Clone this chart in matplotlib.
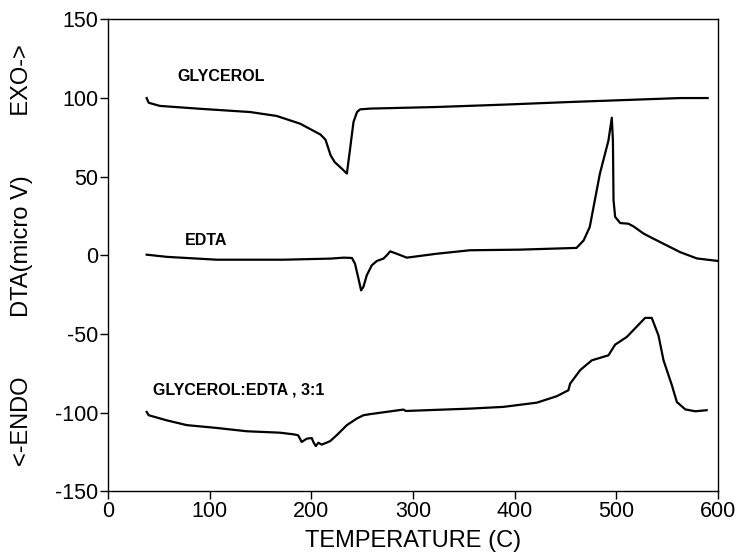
import matplotlib
matplotlib.use("Agg")
import matplotlib.pyplot as plt

plt.rcParams['font.family'] = ['Liberation Sans', 'DejaVu Sans']
plt.rcParams['axes.unicode_minus'] = False

# GLYCEROL curve (temperature C, DTA micro V)
gly_t = [38, 40, 51, 90, 140, 166, 189, 209, 214, 219, 223, 231, 235, 238, 241.5, 245, 248,
         258, 323, 389, 455, 520, 563, 590]
gly_v = [100, 97, 95, 93.2, 91.1, 88.6, 83.7, 76.8, 73.5, 63.6, 59.3, 54.5, 52.0, 66.8, 84.7,
         91.1, 92.8, 93.3, 94.3, 95.8, 97.5, 99, 100, 100]

# EDTA curve
edta_t = [38, 58, 107, 173, 219, 232, 240, 243, 246.4, 249, 251.3, 254.6, 259.5, 264.5, 271,
          274.3, 277.6, 284, 294, 323.5, 356, 405.5, 461, 468, 474, 484, 492.4, 495.7,
          496.8, 497.4, 499, 504, 512, 517, 527, 533.5, 543, 563, 579.4, 600]
edta_v = [0.4, -1, -2.8, -2.8, -2.1, -1.5, -1.7, -5.3, -14.8, -22.3, -20, -12.7, -6.4, -3.6,
          -2.1, 0, 2.5, 1, -1.5, 1, 3.2, 3.6, 4.7, 9.5, 18, 52, 73, 87.5,
          73, 35, 24.4, 20.5, 20.1, 18.4, 13.8, 11.6, 8.5, 2, -2, -3.6]

# GLYCEROL:EDTA 3:1 curve
mix_t = [38, 40, 58, 77.5, 107, 136.5, 169, 182, 187, 190.6, 195.6, 200.5, 202, 204.4, 207,
         210.3, 218.5, 225, 235, 244.8, 251.3, 258, 290.6, 293, 356, 389, 422, 441.6, 453,
         454.7, 464.6, 476, 492.4, 499, 510.5, 528.5, 535, 541.6, 546.6, 554.8, 559.7, 568,
         577.8, 589]
mix_v = [-99.6, -101.7, -105, -108, -109.8, -111.9, -112.8, -113.8, -114.4, -118.7, -116.6,
         -116.2, -118.7, -121.3, -119.2, -120.4, -118.2, -114.4, -108, -103.8, -101.7, -101,
         -98.1, -99, -97.5, -96.4, -93.7, -89.6, -85.8, -81.6, -73, -66.8, -63.6, -56.8,
         -51.9, -39.8, -39.8, -50.9, -66.8, -82.6, -93.3, -98, -99.2, -98.5]

labels = ["GLYCEROL", "EDTA", "GLYCEROL:EDTA , 3:1"]
label_pos = [(68, 113.4), (76, 9.1), (44, -85.8)]

fig = plt.figure(figsize=(7.4, 5.55), dpi=100)
ax = fig.add_axes([0.146, 0.115, 0.824, 0.85])

for t, v in [(gly_t, gly_v), (edta_t, edta_v), (mix_t, mix_v)]:
    ax.plot(t, v, color='black', lw=1.6)

for txt, (x, y) in zip(labels, label_pos):
    ax.text(x, y, txt, fontsize=11.5, fontweight='bold', va='center', ha='left')

ax.set_xlim(0, 600)
ax.set_ylim(-150, 150)
ax.set_xticks([0, 100, 200, 300, 400, 500, 600])
ax.set_yticks([-150, -100, -50, 0, 50, 100, 150])
ax.tick_params(direction='out', length=6, width=1, labelsize=15.5, pad=1)
for s in ax.spines.values():
    s.set_linewidth(1)

ax.set_xlabel("TEMPERATURE (C)", fontsize=17)
ax.xaxis.set_label_coords(0.5, -0.082)
ax.set_ylabel("<-ENDO         DTA(micro V)         EXO->", fontsize=17)
ax.yaxis.set_label_coords(-0.123, 0.5)

fig.savefig("out.png", dpi=100)
